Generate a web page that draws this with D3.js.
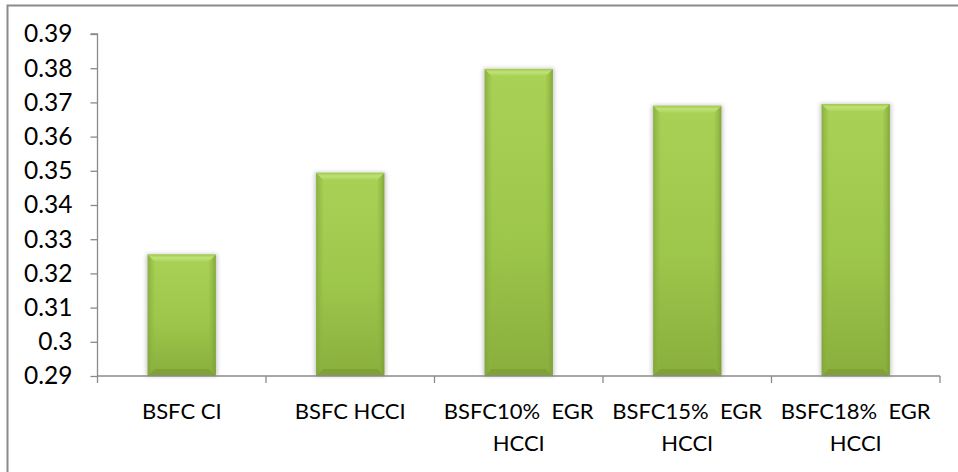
<!DOCTYPE html>
<html>
<head>
<meta charset="utf-8">
<script src="https://cdn.jsdelivr.net/npm/d3@7"></script>
<style>
  html, body { margin: 0; padding: 0; background: #fff; }
  svg { display: block; }
  text { font-family: Lato, "Open Sans", sans-serif; fill: #000; }
</style>
</head>
<body>
<svg id="chart" width="958" height="472"></svg>
<script>
// Brake specific fuel consumption per combustion mode
const categories = [
  ["BSFC CI"],
  ["BSFC HCCI"],
  ["BSFC10%  EGR", "HCCI"],
  ["BSFC15%  EGR", "HCCI"],
  ["BSFC18%  EGR", "HCCI"]
];
const values = [0.3255, 0.3494, 0.3798, 0.3690, 0.3695];
const yTicks = [0.29, 0.30, 0.31, 0.32, 0.33, 0.34, 0.35, 0.36, 0.37, 0.38, 0.39];

const svg = d3.select("#chart");
const W = 958, H = 472;
const plot = { left: 97.5, right: 940, top: 34, bottom: 376 };
const catFont = 22;
const tickFont = 24.5;
const axisGrey = "#8a8a8a";

// outer chart frame (extends past the right/bottom edges)
svg.append("rect")
  .attr("x", 7.5).attr("y", 5.5)
  .attr("width", W + 20).attr("height", H + 20)
  .attr("fill", "#fff")
  .attr("stroke", axisGrey).attr("stroke-width", 2);

const keys = categories.map((c, i) => i);
const x = d3.scaleBand()
  .domain(keys)
  .range([plot.left, plot.right])
  .paddingInner(0.596)
  .paddingOuter(0.298);

const y = d3.scaleLinear()
  .domain([yTicks[0], yTicks[yTicks.length - 1]])
  .range([plot.bottom, plot.top]);

const defs = svg.append("defs");

const face = defs.append("linearGradient").attr("id", "face")
  .attr("x1", 0).attr("y1", 0).attr("x2", 0).attr("y2", 1);
face.append("stop").attr("offset", "0%").attr("stop-color", "#a9d156");
face.append("stop").attr("offset", "55%").attr("stop-color", "#9dc74b");
face.append("stop").attr("offset", "100%").attr("stop-color", "#8aae3d");

const sideL = defs.append("linearGradient").attr("id", "sideL")
  .attr("x1", 0).attr("y1", 0).attr("x2", 1).attr("y2", 0);
sideL.append("stop").attr("offset", "0%").attr("stop-color", "#7fa33a").attr("stop-opacity", 0.75);
sideL.append("stop").attr("offset", "100%").attr("stop-color", "#8fb843").attr("stop-opacity", 0.15);

const sideR = defs.append("linearGradient").attr("id", "sideR")
  .attr("x1", 1).attr("y1", 0).attr("x2", 0).attr("y2", 0);
sideR.append("stop").attr("offset", "0%").attr("stop-color", "#789c33").attr("stop-opacity", 0.8);
sideR.append("stop").attr("offset", "100%").attr("stop-color", "#8fb843").attr("stop-opacity", 0.15);

const topG = defs.append("linearGradient").attr("id", "topG")
  .attr("x1", 0).attr("y1", 0).attr("x2", 0).attr("y2", 1);
topG.append("stop").attr("offset", "0%").attr("stop-color", "#a0ca4d");
topG.append("stop").attr("offset", "45%").attr("stop-color", "#c0e177");
topG.append("stop").attr("offset", "100%").attr("stop-color", "#abd458");

const shadow = defs.append("filter").attr("id", "shadow")
  .attr("x", "-30%").attr("y", "-10%").attr("width", "160%").attr("height", "120%");
shadow.append("feGaussianBlur").attr("stdDeviation", 2.2);

// bars
const bw = x.bandwidth();
const bev = 7;
const base = y(yTicks[0]);
const bars = svg.append("g").selectAll("g").data(values).join("g");

bars.append("rect")
  .attr("x", (d, i) => x(i) - 1.5)
  .attr("y", d => y(d) - 0.5)
  .attr("width", bw + 3)
  .attr("height", d => base - y(d) + 0.5)
  .attr("fill", "#000").attr("opacity", 0.22)
  .attr("filter", "url(#shadow)");

bars.append("rect")
  .attr("x", (d, i) => x(i))
  .attr("y", d => y(d))
  .attr("width", bw)
  .attr("height", d => base - y(d))
  .attr("fill", "url(#face)");

// left bevel
bars.append("path")
  .attr("d", (d, i) => {
    const x0 = x(i), y0 = y(d);
    return `M${x0},${y0}L${x0 + bev},${y0 + bev}L${x0 + bev},${base - bev}L${x0},${base}Z`;
  })
  .attr("fill", "url(#sideL)");

// right bevel
bars.append("path")
  .attr("d", (d, i) => {
    const x1 = x(i) + bw, y0 = y(d);
    return `M${x1},${y0}L${x1 - bev},${y0 + bev}L${x1 - bev},${base - bev}L${x1},${base}Z`;
  })
  .attr("fill", "url(#sideR)");

// top bevel
bars.append("path")
  .attr("d", (d, i) => {
    const x0 = x(i), x1 = x0 + bw, y0 = y(d);
    return `M${x0},${y0}L${x1},${y0}L${x1 - bev},${y0 + bev}L${x0 + bev},${y0 + bev}Z`;
  })
  .attr("fill", "url(#topG)");

// bottom bevel
bars.append("path")
  .attr("d", (d, i) => {
    const x0 = x(i), x1 = x0 + bw;
    return `M${x0},${base}L${x1},${base}L${x1 - bev},${base - bev}L${x0 + bev},${base - bev}Z`;
  })
  .attr("fill", "#7e9f35").attr("opacity", 0.85);

// y axis
const yAxis = d3.axisLeft(y)
  .tickValues(yTicks)
  .tickSize(7)
  .tickPadding(18)
  .tickFormat(d3.format(".2~f"));

const gy = svg.append("g")
  .attr("transform", `translate(${plot.left},0)`)
  .call(yAxis);
gy.select(".domain").attr("stroke", axisGrey).attr("stroke-width", 1.3)
  .attr("d", `M-7,${plot.top}H0V${plot.bottom}`);
gy.selectAll(".tick line").attr("stroke", axisGrey).attr("stroke-width", 1.3);
gy.selectAll(".tick text")
  .attr("font-size", tickFont)
  .attr("font-family", "Lato, sans-serif")
  .attr("fill", "#000");

// x axis: baseline with ticks at category boundaries
const step = x.step();
const bounds = keys.map(i => x(i) - (step - bw) / 2).concat([x(keys.length - 1) + bw + (step - bw) / 2]);
const gx = svg.append("g");
gx.append("line")
  .attr("x1", plot.left).attr("x2", bounds[bounds.length - 1])
  .attr("y1", base).attr("y2", base)
  .attr("stroke", axisGrey).attr("stroke-width", 1.3);
gx.selectAll("line.tk").data(bounds).join("line")
  .attr("class", "tk")
  .attr("x1", d => d).attr("x2", d => d)
  .attr("y1", base).attr("y2", base + 7)
  .attr("stroke", axisGrey).attr("stroke-width", 1.3);

// category labels
const lbl = gx.selectAll("text.cat").data(categories).join("text")
  .attr("class", "cat")
  .attr("x", (d, i) => x(i) + bw / 2)
  .attr("y", base + 43)
  .attr("text-anchor", "middle")
  .attr("font-size", catFont)
  .style("white-space", "pre");
lbl.selectAll("tspan").data(d => d).join("tspan")
  .attr("x", function () { return d3.select(this.parentNode).attr("x"); })
  .attr("dy", (d, j) => j === 0 ? 0 : 32)
  .text(d => d);
</script>
</body>
</html>
